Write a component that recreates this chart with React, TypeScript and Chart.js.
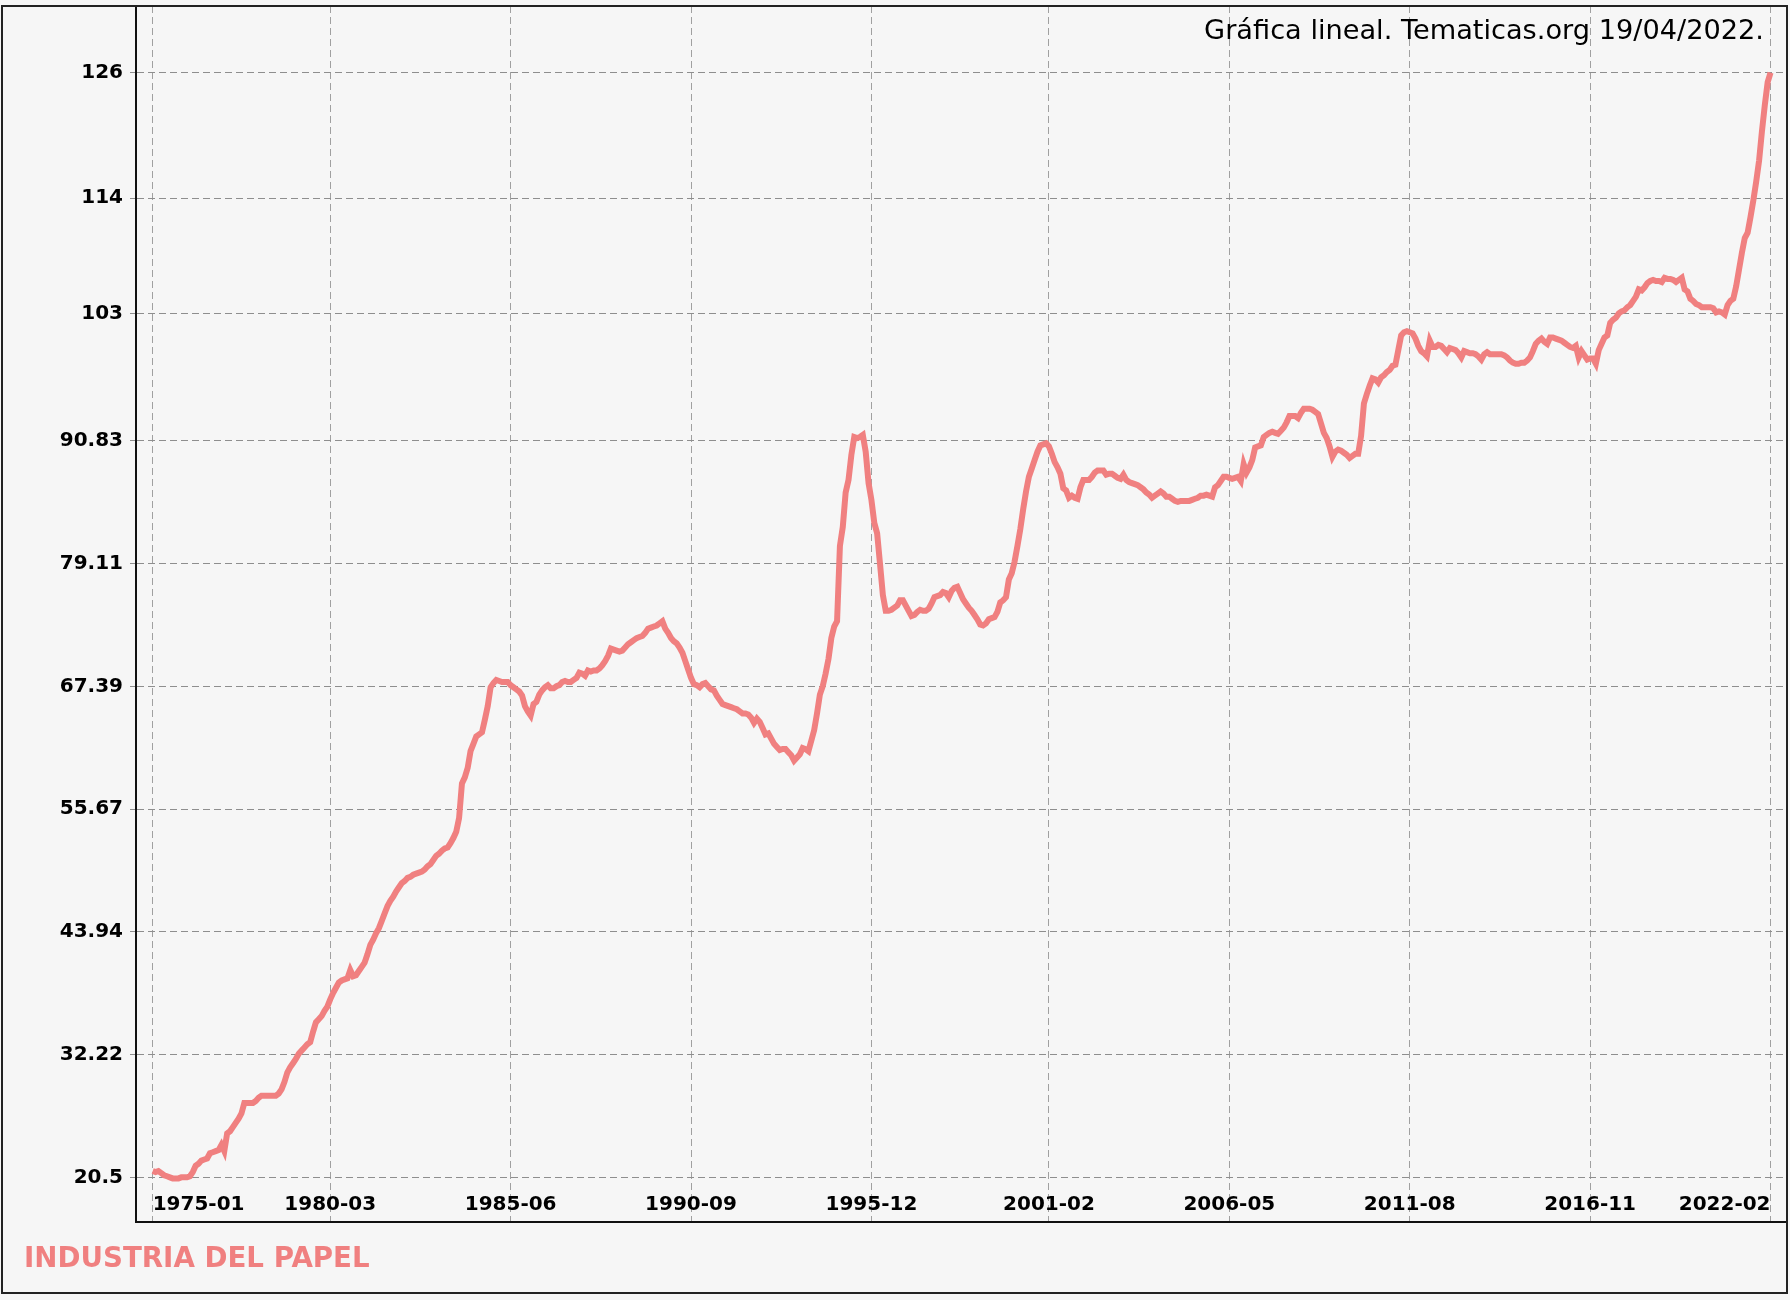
import React, { useEffect, useRef } from "react";
import { Chart, registerables } from "chart.js";

Chart.register(...registerables);

// Monthly index values, 1975-01 .. 2022-02 (one row per year)
const values: number[] = [
  // 1975
  21.1, 21.0, 21.1, 20.9, 20.7, 20.6, 20.5, 20.4, 20.4, 20.4, 20.5, 20.5,
  // 1976
  20.5, 20.6, 21.0, 21.6, 21.8, 22.1, 22.2, 22.3, 22.8, 22.9, 23.0, 23.1,
  // 1977
  23.6, 23.0, 24.7, 24.9, 25.3, 25.7, 26.1, 26.6, 27.6, 27.6, 27.6, 27.6,
  // 1978
  27.8, 28.1, 28.3, 28.3, 28.3, 28.3, 28.3, 28.3, 28.5, 28.9, 29.6, 30.5,
  // 1979
  31.0, 31.4, 31.8, 32.3, 32.6, 32.9, 33.2, 33.4, 34.4, 35.3, 35.6, 35.9,
  // 1980
  36.4, 36.8, 37.5, 38.1, 38.6, 39.1, 39.3, 39.4, 39.5, 40.3, 39.7, 39.8,
  // 1981
  40.2, 40.6, 41.0, 41.8, 42.7, 43.2, 43.8, 44.3, 45.0, 45.7, 46.4, 46.9,
  // 1982
  47.3, 47.8, 48.2, 48.6, 48.8, 49.1, 49.2, 49.4, 49.5, 49.6, 49.7, 49.9,
  // 1983
  50.2, 50.4, 50.8, 51.2, 51.4, 51.7, 51.9, 52.0, 52.4, 52.9, 53.5, 54.8,
  // 1984
  58.1, 58.7, 59.6, 61.2, 61.9, 62.6, 62.8, 63.0, 64.2, 65.5, 67.3, 67.7,
  // 1985
  68.0, 67.9, 67.8, 67.8, 67.8, 67.5, 67.3, 67.1, 66.9, 66.5, 65.5, 65.0,
  // 1986
  64.6, 65.7, 65.9, 66.6, 67.0, 67.3, 67.5, 67.2, 67.2, 67.4, 67.5, 67.8,
  // 1987
  67.9, 67.8, 67.8, 68.0, 68.2, 68.7, 68.6, 68.4, 68.9, 68.8, 68.9, 68.9,
  // 1988
  69.1, 69.4, 69.8, 70.3, 71.0, 70.9, 70.8, 70.7, 70.8, 71.1, 71.4, 71.6,
  // 1989
  71.8, 72.0, 72.1, 72.2, 72.5, 72.9, 73.0, 73.1, 73.2, 73.4, 73.6, 72.9,
  // 1990
  72.5, 72.0, 71.7, 71.5, 71.1, 70.6, 69.8, 69.0, 68.2, 67.6, 67.5, 67.3,
  // 1991
  67.6, 67.7, 67.4, 67.1, 67.0, 66.5, 66.1, 65.7, 65.6, 65.5, 65.4, 65.3,
  // 1992
  65.2, 65.0, 64.8, 64.8, 64.7, 64.4, 63.9, 64.3, 64.0, 63.4, 62.8, 62.9,
  // 1993
  62.4, 61.9, 61.6, 61.3, 61.4, 61.4, 61.1, 60.8, 60.3, 60.6, 60.9, 61.5,
  // 1994
  61.4, 61.2, 62.2, 63.2, 64.8, 66.6, 67.4, 68.6, 70.0, 72.0, 73.1, 73.6,
  // 1995
  80.8, 82.6, 85.9, 87.1, 89.5, 91.2, 91.1, 91.2, 91.4, 89.8, 86.8, 85.2,
  // 1996
  83.0, 82.0, 79.1, 76.1, 74.6, 74.6, 74.7, 74.9, 75.1, 75.6, 75.6, 75.1,
  // 1997
  74.6, 74.1, 74.2, 74.5, 74.7, 74.6, 74.6, 74.8, 75.3, 75.9, 76.0, 76.1,
  // 1998
  76.4, 76.3, 75.9, 76.5, 76.8, 76.9, 76.3, 75.7, 75.3, 74.9, 74.6, 74.2,
  // 1999
  73.8, 73.3, 73.2, 73.4, 73.8, 73.9, 74.0, 74.5, 75.4, 75.6, 75.9, 77.6,
  // 2000
  78.2, 79.3, 80.8, 82.4, 84.3, 86.0, 87.4, 88.2, 89.0, 89.8, 90.4, 90.5,
  // 2001
  90.6, 90.3, 89.6, 88.8, 88.3, 87.7, 86.3, 86.1, 85.4, 85.6, 85.4, 85.3,
  // 2002
  86.4, 87.1, 87.1, 87.1, 87.4, 87.8, 88.0, 88.0, 88.0, 87.6, 87.7, 87.7,
  // 2003
  87.5, 87.3, 87.2, 87.6, 87.1, 86.9, 86.8, 86.7, 86.6, 86.4, 86.2, 85.9,
  // 2004
  85.7, 85.4, 85.6, 85.8, 86.0, 85.8, 85.5, 85.5, 85.3, 85.1, 85.0, 85.1,
  // 2005
  85.1, 85.1, 85.1, 85.2, 85.3, 85.4, 85.6, 85.6, 85.7, 85.6, 85.5, 86.4,
  // 2006
  86.6, 87.0, 87.4, 87.4, 87.3, 87.2, 87.3, 87.4, 87.0, 88.6, 87.8, 88.3,
  // 2007
  89.0, 90.2, 90.3, 90.4, 91.2, 91.4, 91.6, 91.7, 91.6, 91.5, 91.8, 92.1,
  // 2008
  92.6, 93.2, 93.2, 93.2, 93.0, 93.5, 93.9, 93.9, 93.9, 93.8, 93.6, 93.4,
  // 2009
  92.5, 91.6, 91.1, 90.3, 89.3, 89.8, 90.0, 89.9, 89.7, 89.5, 89.2, 89.4,
  // 2010
  89.6, 89.6, 91.3, 94.4, 95.3, 96.1, 96.8, 96.7, 96.4, 96.9, 97.1, 97.4,
  // 2011
  97.6, 98.0, 98.1, 99.5, 100.9, 101.2, 101.3, 101.2, 101.1, 100.6, 99.9, 99.4,
  // 2012
  99.2, 98.9, 100.4, 99.8, 99.8, 100.0, 99.9, 99.6, 99.3, 99.7, 99.6, 99.5,
  // 2013
  99.2, 98.8, 99.4, 99.3, 99.2, 99.2, 99.1, 98.9, 98.6, 99.1, 99.3, 99.1,
  // 2014
  99.1, 99.1, 99.1, 99.1, 99.0, 98.8, 98.5, 98.3, 98.2, 98.2, 98.3, 98.3,
  // 2015
  98.5, 98.8, 99.4, 100.1, 100.4, 100.6, 100.3, 100.1, 100.7, 100.7, 100.6, 100.5,
  // 2016
  100.4, 100.2, 100.0, 99.8, 99.7, 99.9, 98.8, 99.4, 99.0, 98.6, 98.7, 98.7,
  // 2017
  98.2, 99.5, 100.1, 100.7, 100.9, 102.1, 102.4, 102.6, 103.0, 103.2, 103.3, 103.6,
  // 2018
  103.8, 104.2, 104.6, 105.3, 105.2, 105.5, 105.9, 106.1, 106.2, 106.1, 106.1, 106.0,
  // 2019
  106.4, 106.3, 106.3, 106.2, 106.0, 106.2, 106.4, 105.3, 105.1, 104.4, 104.2, 103.9,
  // 2020
  103.8, 103.6, 103.6, 103.6, 103.6, 103.5, 103.1, 103.2, 103.1, 102.9, 103.8, 104.2,
  // 2021
  104.4, 105.6, 107.2, 108.8, 110.2, 110.7, 112.2, 113.8, 115.6, 117.6, 120.4, 122.9,
  // 2022
  125.1, 126.0,
];

const startYear = 1975;
const startMonth = 1;

const xTickLabels: string[] = [
  "1975-01", "1980-03", "1985-06", "1990-09", "1995-12",
  "2001-02", "2006-05", "2011-08", "2016-11", "2022-02",
];

const yTickValues: number[] = [20.5, 32.22, 43.94, 55.67, 67.39, 79.11, 90.83, 103, 114, 126];
const yTickLabels: string[] = ["20.5", "32.22", "43.94", "55.67", "67.39", "79.11", "90.83", "103", "114", "126"];

const titleText = "Gráfica lineal. Tematicas.org 19/04/2022.";
const seriesName = "INDUSTRIA DEL PAPEL";

function labelToIndex(label: string): number {
  const [y, m] = label.split("-").map(Number);
  return (y - startYear) * 12 + (m - startMonth);
}

const LINE_COLOR = "#F08080";
const BG = "#f6f6f6";

export default function App() {
  const ref = useRef<HTMLCanvasElement | null>(null);

  useEffect(() => {
    document.body.style.margin = "0";
    document.body.style.background = BG;
    const canvas = ref.current;
    if (!canvas) return;

    const points = values.map((v, i) => ({ x: i, y: v }));
    const xTickIdx = xTickLabels.map(labelToIndex);

    const decor = {
      id: "decor",
      beforeDraw(chart: any) {
        const ctx = chart.ctx;
        ctx.save();
        ctx.fillStyle = BG;
        ctx.fillRect(0, 0, chart.width, chart.height);
        ctx.restore();
      },
      afterDraw(chart: any) {
        const ctx = chart.ctx;
        const xs = chart.scales.x;
        ctx.save();
        // x labels inside plot area
        ctx.font = 'bold 20px "DejaVu Sans"';
        ctx.fillStyle = "#000";
        ctx.textBaseline = "middle";
        xTickLabels.forEach((lab, k) => {
          const px = xs.getPixelForValue(xTickIdx[k]);
          ctx.textAlign = k === 0 ? "left" : k === xTickLabels.length - 1 ? "right" : "center";
          ctx.fillText(lab, px, 1205);
        });
        // title
        ctx.font = '27.2px "DejaVu Sans"';
        ctx.textAlign = "right";
        ctx.textBaseline = "alphabetic";
        ctx.fillText(titleText, 1764, 39);
        // series name
        ctx.font = 'bold 27.7px "DejaVu Sans"';
        ctx.fillStyle = LINE_COLOR;
        ctx.textAlign = "left";
        ctx.fillText(seriesName, 24, 1267);
        // outer frame
        ctx.strokeStyle = "#222";
        ctx.lineWidth = 2;
        ctx.strokeRect(2, 6, 1785, 1287);
        ctx.restore();
      },
    };

    const chart = new Chart(canvas, {
      type: "line",
      data: {
        datasets: [
          {
            label: seriesName,
            data: points,
            borderColor: LINE_COLOR,
            backgroundColor: LINE_COLOR,
            borderWidth: 6,
            pointRadius: 0,
            fill: false,
            tension: 0,
          },
        ],
      },
      options: {
        animation: false,
        responsive: false,
        maintainAspectRatio: false,
        devicePixelRatio: 1,
        layout: { autoPadding: false, padding: { top: 6, left: 0, right: 4, bottom: 78 } },
        plugins: {
          legend: { display: false },
          tooltip: { enabled: false },
          title: { display: false },
        },
        scales: {
          x: {
            type: "linear",
            min: -5.83,
            max: 570.4,
            afterBuildTicks: (s: any) => {
              s.ticks = xTickIdx.map((v) => ({ value: v }));
            },
            afterFit: (s: any) => {
              s.height = 0;
              s.paddingLeft = 0;
              s.paddingRight = 0;
              s.paddingTop = 0;
              s.paddingBottom = 0;
            },
            ticks: { display: false },
            grid: { color: "#a0a0a0", lineWidth: 1, drawTicks: false },
            border: { display: true, color: "#111", width: 2, dash: [7, 4] },
          },
          y: {
            type: "linear",
            min: 16.235,
            max: 132.36,
            afterBuildTicks: (s: any) => {
              s.ticks = yTickValues.map((v) => ({ value: v }));
            },
            afterFit: (s: any) => {
              s.width = 136;
              s.paddingLeft = 0;
              s.paddingRight = 0;
              s.paddingTop = 0;
              s.paddingBottom = 0;
            },
            ticks: {
              color: "#000",
              font: { family: '"DejaVu Sans"', size: 20, weight: "bold" },
              padding: 7,
              callback: (_v: any, i: number) => yTickLabels[i],
            },
            grid: {
              color: "#8e8e8e",
              lineWidth: 1,
              drawTicks: true,
              tickLength: 6,
              tickBorderDash: [7, 4],
            },
            border: { display: true, color: "#111", width: 2, dash: [7, 4] },
          },
        },
      },
      plugins: [decor],
    } as any);

    return () => chart.destroy();
  }, []);

  return (
    <div style={{ width: 1790, height: 1300 }}>
      <canvas ref={ref} width={1790} height={1300} style={{ display: "block" }} />
    </div>
  );
}
